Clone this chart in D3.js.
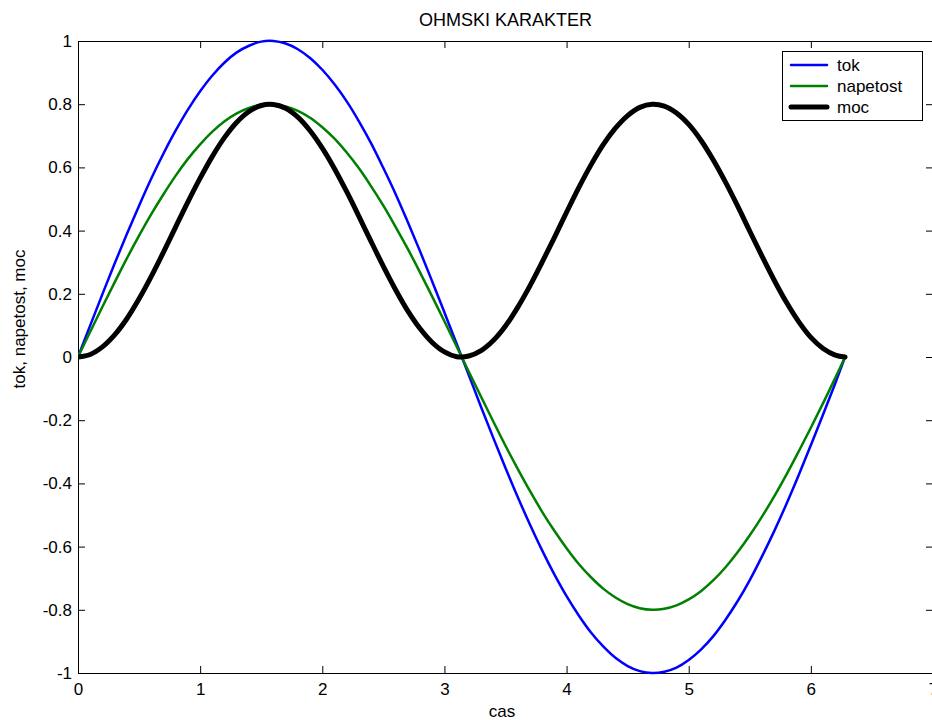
<!DOCTYPE html>
<html>
<head>
<meta charset="utf-8">
<script src="https://cdn.jsdelivr.net/npm/d3@7"></script>
<style>
  body { margin: 0; background: #fff; }
  svg { font-family: "Liberation Sans", Arial, sans-serif; }
  .axis path, .axis line { stroke: #000; }
  .axis text { fill: #000; font-size: 17px; }
</style>
</head>
<body>
<svg id="chart" width="932" height="720"></svg>
<script>
// time samples (cas)
const cas = [0, 0.1, 0.2, 0.3, 0.4, 0.5, 0.6, 0.7, 0.8, 0.9,
  1.0, 1.1, 1.2, 1.3, 1.4, 1.5, 1.6, 1.7, 1.8, 1.9,
  2.0, 2.1, 2.2, 2.3, 2.4, 2.5, 2.6, 2.7, 2.8, 2.9,
  3.0, 3.1, 3.2, 3.3, 3.4, 3.5, 3.6, 3.7, 3.8, 3.9,
  4.0, 4.1, 4.2, 4.3, 4.4, 4.5, 4.6, 4.7, 4.8, 4.9,
  5.0, 5.1, 5.2, 5.3, 5.4, 5.5, 5.6, 5.7, 5.8, 5.9,
  6.0, 6.1, 6.2, 6.28];

const tok = [0, 0.100, 0.199, 0.296, 0.389, 0.479, 0.565, 0.644, 0.717, 0.783,
  0.841, 0.891, 0.932, 0.964, 0.985, 0.998, 1.000, 0.992, 0.974, 0.946,
  0.909, 0.863, 0.809, 0.746, 0.676, 0.598, 0.516, 0.427, 0.335, 0.239,
  0.141, 0.042, -0.058, -0.158, -0.256, -0.351, -0.443, -0.530, -0.612, -0.688,
  -0.757, -0.818, -0.872, -0.916, -0.952, -0.978, -0.994, -1.000, -0.996, -0.983,
  -0.959, -0.926, -0.884, -0.832, -0.773, -0.706, -0.631, -0.551, -0.465, -0.374,
  -0.279, -0.182, -0.083, 0];

const napetost = [0, 0.080, 0.159, 0.236, 0.312, 0.384, 0.452, 0.515, 0.574, 0.627,
  0.673, 0.713, 0.746, 0.771, 0.788, 0.798, 0.800, 0.793, 0.779, 0.757,
  0.727, 0.691, 0.647, 0.597, 0.540, 0.479, 0.412, 0.342, 0.268, 0.191,
  0.113, 0.033, -0.047, -0.126, -0.204, -0.281, -0.354, -0.424, -0.490, -0.550,
  -0.605, -0.655, -0.697, -0.733, -0.761, -0.782, -0.795, -0.800, -0.797, -0.786,
  -0.767, -0.741, -0.707, -0.666, -0.618, -0.564, -0.505, -0.441, -0.372, -0.299,
  -0.224, -0.146, -0.066, 0];

const moc = [0, 0.008, 0.032, 0.070, 0.121, 0.184, 0.255, 0.332, 0.412, 0.491,
  0.566, 0.635, 0.695, 0.743, 0.777, 0.796, 0.799, 0.787, 0.759, 0.716,
  0.661, 0.596, 0.523, 0.445, 0.365, 0.287, 0.213, 0.146, 0.090, 0.046,
  0.016, 0.001, 0.003, 0.020, 0.052, 0.098, 0.157, 0.225, 0.300, 0.378,
  0.458, 0.536, 0.608, 0.672, 0.724, 0.764, 0.790, 0.800, 0.794, 0.772,
  0.736, 0.686, 0.624, 0.554, 0.478, 0.398, 0.319, 0.243, 0.173, 0.112,
  0.062, 0.027, 0.006, 0];

const xTicks = [0, 1, 2, 3, 4, 5, 6, 7];
const yTicks = [-1, -0.8, -0.6, -0.4, -0.2, 0, 0.2, 0.4, 0.6, 0.8, 1];

const series = [
  { name: 'tok', values: tok, color: '#0000ff', width: 2.5 },
  { name: 'napetost', values: napetost, color: '#008000', width: 2.5 },
  { name: 'moc', values: moc, color: '#000000', width: 5 }
];

const svg = d3.select('#chart');
const m = { left: 78, right: 933, top: 41, bottom: 673 };

const x = d3.scaleLinear().domain([0, 7]).range([m.left, m.right]);
const y = d3.scaleLinear().domain([-1, 1]).range([m.bottom, m.top]);

// clip so the lines stay inside the box
svg.append('defs').append('clipPath').attr('id', 'clip')
  .append('rect').attr('x', m.left).attr('y', m.top - 3)
  .attr('width', m.right - m.left).attr('height', m.bottom - m.top + 6);

// matlab style: plain hyphen for negatives
const fmt = d => String(+d.toFixed(1));

// axes, ticks pointing inward like matlab
svg.append('g').attr('class', 'axis')
  .attr('transform', `translate(0,${m.bottom})`)
  .call(d3.axisBottom(x).tickValues(xTicks).tickFormat(fmt)
    .tickSizeInner(-7).tickSizeOuter(0).tickPadding(10))
  .call(g => g.selectAll('text').attr('dy', '0.71em'));

svg.append('g').attr('class', 'axis')
  .attr('transform', `translate(0,${m.top})`)
  .call(d3.axisTop(x).tickValues(xTicks).tickFormat('')
    .tickSizeInner(-7).tickSizeOuter(0));

svg.append('g').attr('class', 'axis')
  .attr('transform', `translate(${m.left},0)`)
  .call(d3.axisLeft(y).tickValues(yTicks).tickFormat(fmt)
    .tickSizeInner(-7).tickSizeOuter(0).tickPadding(6));

svg.append('g').attr('class', 'axis')
  .attr('transform', `translate(${m.right},0)`)
  .call(d3.axisRight(y).tickValues(yTicks).tickFormat('')
    .tickSizeInner(-7).tickSizeOuter(0));

// lines
const line = d3.line()
  .x((d, i) => x(cas[i]))
  .y(d => y(d))
  .curve(d3.curveCatmullRom);

svg.append('g').attr('clip-path', 'url(#clip)')
  .selectAll('path')
  .data(series)
  .join('path')
  .attr('d', d => line(d.values))
  .attr('fill', 'none')
  .attr('stroke', d => d.color)
  .attr('stroke-width', d => d.width)
  .attr('stroke-linejoin', 'round')
  .attr('stroke-linecap', 'round');

// title and labels
svg.append('text')
  .attr('x', (m.left + m.right) / 2).attr('y', 26)
  .attr('text-anchor', 'middle')
  .style('font-size', '18px')
  .text('OHMSKI KARAKTER');

svg.append('text')
  .attr('x', 502).attr('y', 717)
  .attr('text-anchor', 'middle')
  .style('font-size', '17px')
  .text('cas');

svg.append('text')
  .attr('transform', 'translate(25,319) rotate(-90)')
  .attr('text-anchor', 'middle')
  .style('font-size', '17px')
  .text('tok, napetost, moc');

// legend
const legend = svg.append('g');
legend.append('rect')
  .attr('x', 782.5).attr('y', 51.5)
  .attr('width', 140).attr('height', 69)
  .attr('fill', '#fff').attr('stroke', '#000');

const row = legend.selectAll('g.item')
  .data(series)
  .join('g').attr('class', 'item')
  .attr('transform', (d, i) => `translate(0,${65 + i * 21})`);

row.append('line')
  .attr('x1', 791).attr('x2', 827)
  .attr('stroke', d => d.color)
  .attr('stroke-width', d => d.width)
  .attr('stroke-linecap', 'round');

row.append('text')
  .attr('x', 837).attr('dy', '0.35em')
  .style('font-size', '17px')
  .text(d => d.name);
</script>
</body>
</html>
